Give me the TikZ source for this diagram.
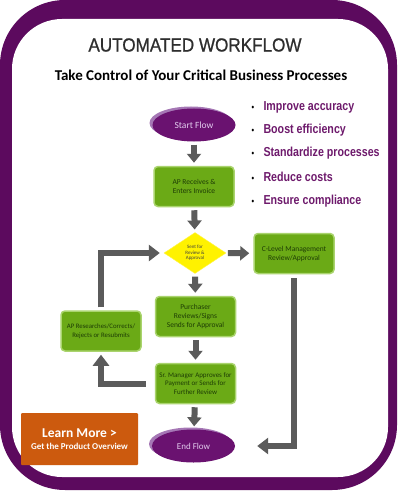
\documentclass[tikz,border=0pt]{standalone}
\usepackage{fontspec}
\setmainfont{Carlito}
\newfontfamily\titlefont[FakeStretch=0.9,FakeBold=0.8]{Liberation Sans}
\newfontfamily\pointfont[FakeStretch=0.82]{Liberation Sans}
\usetikzlibrary{shapes.geometric,arrows.meta,shadows}
\definecolor{framepurple}{HTML}{5C0A5E}
\definecolor{flowpurple}{HTML}{6A1270}
\definecolor{rimpurple}{HTML}{A577B5}
\definecolor{lilac}{HTML}{E2CCEE}
\definecolor{boxgreen}{HTML}{6BAA16}
\definecolor{rimgreen}{HTML}{AAD46E}
\definecolor{textgreen}{HTML}{1E3D05}
\definecolor{arrowgray}{HTML}{5B5B5B}
\definecolor{pointpurple}{HTML}{6E1A6C}
\definecolor{learnorange}{HTML}{CC5A0E}
\tikzset{
  task/.style={rectangle, rounded corners=4pt, fill=boxgreen, draw=rimgreen,
    line width=1.5pt, minimum width=80pt, minimum height=40pt, align=center,
    text=textgreen, font=\fontsize{7.5}{9}\selectfont},
  terminal/.style={ellipse, fill=flowpurple, minimum width=83pt, minimum height=33pt,
    text=lilac, font=\fontsize{9.5}{11}\selectfont,
    general shadow={fill=rimpurple, shadow xshift=-3pt, shadow yshift=2pt}},
  decision/.style={diamond, fill=yellow, draw=yellow!70!white, aspect=1.5,
    minimum width=62pt, minimum height=41pt, inner sep=0pt, align=center,
    text=black!75, font=\fontsize{5}{5.5}\selectfont},
  flow/.style={draw=arrowgray, line width=6pt,
    -{Triangle[width=14pt,length=9pt]}, shorten <=3pt, shorten >=3pt},
  loop/.style={draw=arrowgray, line width=6pt,
    -{Triangle[width=16pt,length=11pt]}},
  point/.style={anchor=west, text=pointpurple, font=\pointfont\bfseries\fontsize{13}{15}\selectfont}
}
\newcommand{\dotitem}[1]{\makebox[12pt][l]{\textcolor{black}{\fontsize{9}{9}\selectfont\textbullet}}#1}
\begin{document}
\begin{tikzpicture}[x=1pt,y=-1pt]
  \fill[white] (0,0) rectangle (400,492);
  \useasboundingbox (0,0) rectangle (400,492);
  \fill[framepurple, rounded corners=65pt] (0,0) rectangle (397,490);
  \fill[white, rounded corners=50pt] (12,19) rectangle (388,477);
  \draw
    (195,45) node[text=black!82, font=\titlefont\fontsize{19}{21}\selectfont] (title){AUTOMATED WORKFLOW}
    (201,75) node[font=\bfseries\fontsize{15}{17}\selectfont] (subtitle){Take Control of Your Critical Business Processes}
    (248,107) node[point] (p1){\dotitem{Improve accuracy}}
    (248,130) node[point] (p2){\dotitem{Boost efficiency}}
    (248,153) node[point] (p3){\dotitem{Standardize processes}}
    (248,177) node[point] (p4){\dotitem{Reduce costs}}
    (248,201) node[point] (p5){\dotitem{Ensure compliance}}
    (194,125) node[terminal] (start){Start Flow}
    (194,186.5) node[task] (recv){AP Receives \&\\Enters Invoice}
    (195,253) node[decision] (sent){Sent for\\Review \&\\Approval}
    (294,253.5) node[task] (clevel){C-Level Management\\Review/Approval}
    (195.5,316.5) node[task] (purch){Purchaser\\Reviews/Signs\\Sends for Approval}
    (195.5,383.5) node[task, font=\fontsize{7}{8.2}\selectfont] (srmgr){Sr. Manager Approves for\\Payment or Sends for\\Further Review}
    (101,331) node[task, font=\fontsize{6.8}{8.5}\selectfont] (apres){AP Researches/Corrects/\\Rejects or Resubmits}
    (193.5,446) node[terminal, font=\fontsize{9}{11}\selectfont] (end){End Flow}
    (79.5,439) node[rectangle, rounded corners=1pt, fill=learnorange, minimum width=117pt,
      minimum height=52pt, text=white, align=center, font=\bfseries] (learn)
      {{\fontsize{13.5}{19}\selectfont Learn More >}\\{\fontsize{9}{11}\selectfont Get the Product Overview}};
  \begin{scope}[flow]
    \draw (start) to (recv);
    \draw (recv) to (sent);
    \draw[shorten <=2pt, shorten >=4pt] (sent) to (clevel);
    \draw (sent) to (purch);
    \draw (purch) to (srmgr);
    \draw (srmgr) to (end);
  \end{scope}
  \begin{scope}[loop]
    \draw[shorten <=4pt, shorten >=22pt] (clevel) |- (end);
    \draw[shorten <=9pt, shorten >=3pt] (srmgr) -| (apres);
    \draw[shorten <=3pt, shorten >=4pt] (apres) |- (sent);
  \end{scope}
\end{tikzpicture}
\end{document}
